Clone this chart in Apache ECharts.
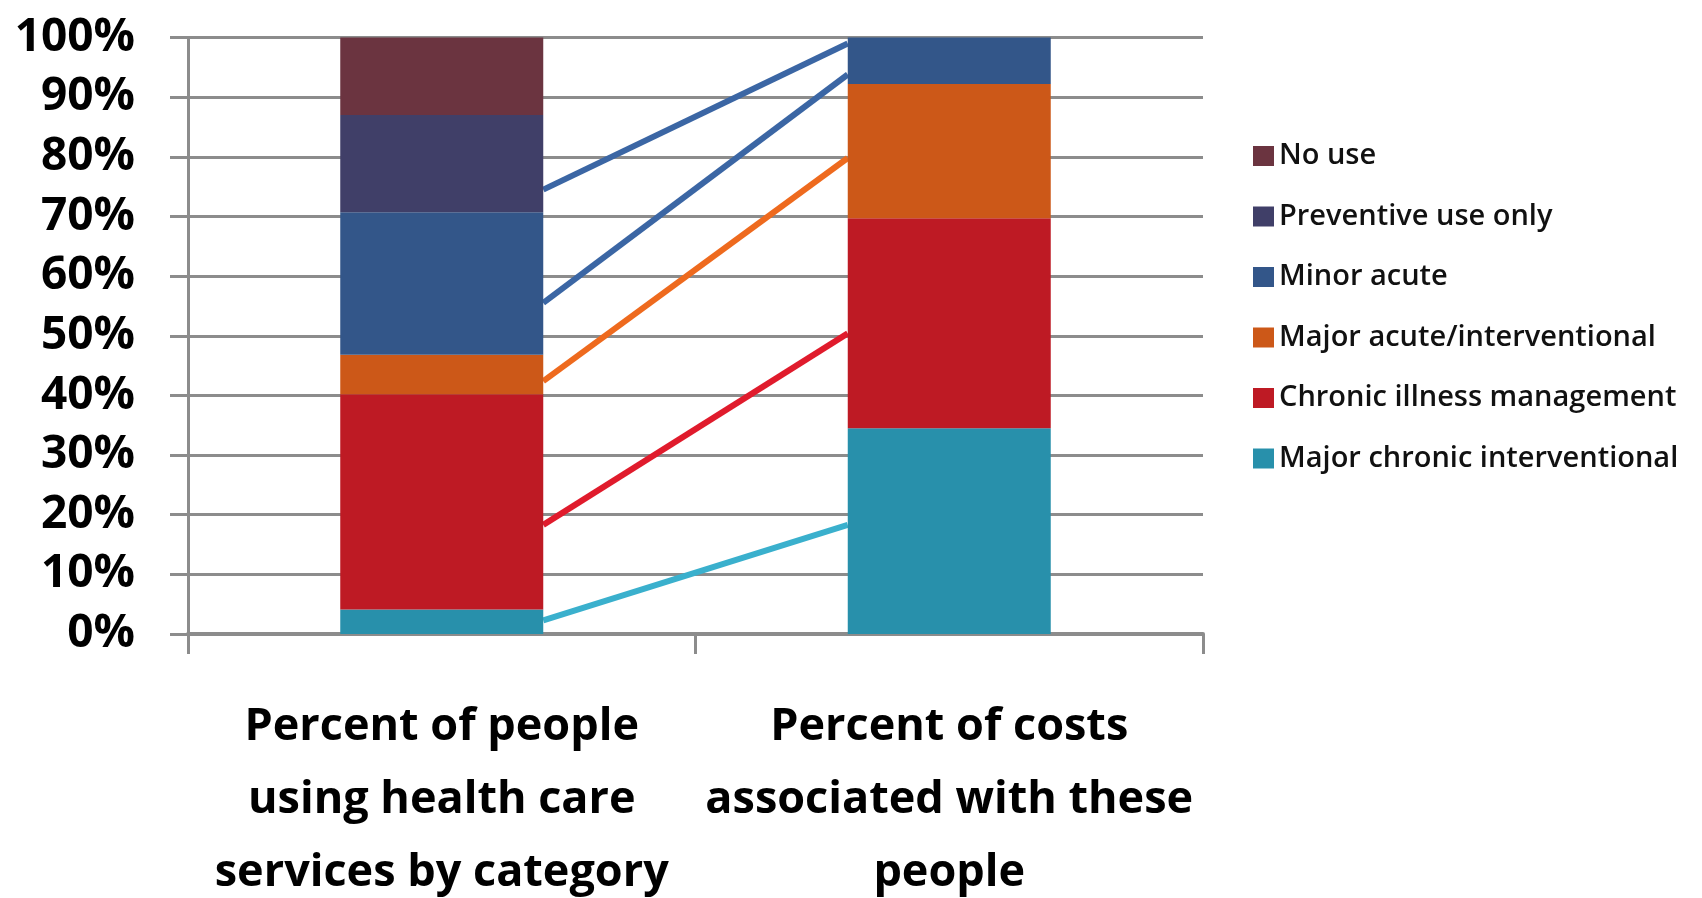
<!DOCTYPE html>
<html>
<head>
<meta charset="utf-8">
<script src="https://cdn.jsdelivr.net/npm/echarts@6/dist/echarts.min.js"></script>
<style>
html,body{margin:0;padding:0;background:#fff;}
#chart{width:1702px;height:898px;}
</style>
</head>
<body>
<div id="chart"></div>
<script>
// ---- data ----
var categories = ['Percent of people\nusing health care\nservices by category', 'Percent of costs\nassociated with these\npeople'];
var yTicks = [0, 10, 20, 30, 40, 50, 60, 70, 80, 90, 100];

var seriesNames = ['Major chronic interventional', 'Chronic illness management', 'Major acute/interventional', 'Minor acute', 'Preventive use only', 'No use'];
var majorChronic = [4.1, 34.5];
var chronicIllness = [36.1, 35.2];
var majorAcute = [6.6, 22.5];
var minorAcute = [23.9, 7.8];
var preventive = [16.3, 0];
var noUse = [13.0, 0];
var barValues = [majorChronic, chronicIllness, majorAcute, minorAcute, preventive, noUse];

// connector lines: [left-bar-edge value, right-bar-edge value]
var lineTeal = [2.3, 18.3];
var lineRed = [18.3, 50.4];
var lineOrange = [42.4, 79.8];
var lineBlueLow = [55.5, 93.8];
var lineBlueHigh = [74.5, 99.0];
var connectorLines = [lineTeal, lineRed, lineOrange, lineBlueLow, lineBlueHigh];
var edgePositions = [0.7, 1.3]; // bar 1 right edge, bar 2 left edge (category units)

// ---- styles ----
var barColors = ['#2890AB', '#BE1A24', '#CC5818', '#335689', '#403F68', '#6B3440'];
var lineColors = ['#3AB0CD', '#E01B2C', '#EE6A1E', '#3B66A4', '#3B66A4'];
var gridColor = '#8C8C8C';
var fontFam = '"Open Sans", "DejaVu Sans", sans-serif';

var series = [];
seriesNames.forEach(function (n, i) {
  series.push({
    name: n, type: 'bar', stack: 'total', barWidth: '40%',
    xAxisIndex: 0, yAxisIndex: 0,
    itemStyle: { color: barColors[i] },
    data: barValues[i], z: 3
  });
});
connectorLines.forEach(function (ln, i) {
  series.push({
    type: 'line', xAxisIndex: 1, yAxisIndex: 0,
    symbol: 'none', silent: true,
    lineStyle: { color: lineColors[i], width: 6 },
    data: [[edgePositions[0], ln[0]], [edgePositions[1], ln[1]]], z: 2
  });
});

var chart = echarts.init(document.getElementById('chart'));
chart.setOption({
  animation: false,
  backgroundColor: '#fff',
  grid: { left: 188, right: 499, top: 37.5, bottom: 264, outerBoundsMode: 'none', containLabel: false },
  legend: {
    orient: 'vertical', left: 1248, top: 136,
    data: seriesNames.slice().reverse(),
    icon: 'rect', itemWidth: 21, itemHeight: 20, itemGap: 30.5,
    textStyle: { fontFamily: fontFam, fontSize: 29, fontWeight: 600, color: '#111', lineHeight: 30, padding: [0, 0, 0, 0] }
  },
  xAxis: [{
    type: 'category', data: categories,
    axisLine: { show: true, lineStyle: { color: gridColor, width: 4 } },
    axisTick: { show: true, length: 20, lineStyle: { color: gridColor, width: 3 } },
    axisLabel: { margin: 57, fontFamily: fontFam, fontSize: 45, fontWeight: 700, color: '#000', lineHeight: 73, interval: 0 }
  }, {
    type: 'value', min: 0, max: 2, show: false
  }],
  yAxis: {
    type: 'value', min: yTicks[0], max: yTicks[yTicks.length - 1], interval: 10,
    axisLine: { show: true, lineStyle: { color: gridColor, width: 3 } },
    axisTick: { show: true, length: 18, lineStyle: { color: gridColor, width: 3 } },
    splitLine: { show: true, lineStyle: { color: gridColor, width: 3 } },
    axisLabel: { margin: 53, formatter: '{value}%', fontFamily: fontFam, fontSize: 46, fontWeight: 700, color: '#000' }
  },
  series: series
});
</script>
</body>
</html>
